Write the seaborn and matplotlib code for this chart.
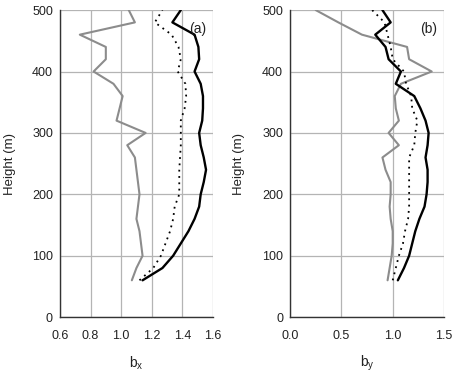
import numpy as np
import pandas as pd
import matplotlib as mpl
import matplotlib.pyplot as plt
import seaborn as sns

sns.set_style("whitegrid")
mpl.rcParams['font.family'] = ['Liberation Sans', 'DejaVu Sans']

# heights (m), 60 .. 500 every 20 m
height = [60, 80, 100, 120, 140, 160, 180, 200, 220, 240, 260, 280,
          300, 320, 340, 360, 380, 400, 420, 440, 460, 480, 500]

# panel (a): bx
bx_gray = [1.07, 1.10, 1.14, 1.13, 1.12, 1.10, 1.11, 1.12, 1.11, 1.10, 1.09, 1.04,
           1.16, 0.97, 0.99, 1.01, 0.95, 0.82, 0.90, 0.90, 0.73, 1.09, 1.05]
bx_dot = [1.12, 1.21, 1.26, 1.29, 1.32, 1.34, 1.35, 1.38, 1.38, 1.38, 1.385, 1.39,
          1.39, 1.39, 1.415, 1.425, 1.42, 1.37, 1.39, 1.375, 1.33, 1.22, 1.27]
bx_black = [1.14, 1.27, 1.34, 1.39, 1.44, 1.48, 1.51, 1.52, 1.54, 1.555, 1.54, 1.52,
            1.51, 1.53, 1.535, 1.535, 1.52, 1.48, 1.51, 1.505, 1.48, 1.335, 1.39]

# panel (b): by
by_gray = [0.95, 0.97, 0.99, 1.00, 1.00, 0.98, 0.97, 0.98, 0.98, 0.93, 0.90, 1.06,
           0.96, 1.06, 1.03, 1.02, 1.08, 1.38, 1.16, 1.14, 0.70, 0.47, 0.25]
by_dot = [1.00, 1.03, 1.06, 1.10, 1.12, 1.15, 1.16, 1.16, 1.16, 1.16, 1.16, 1.21,
          1.22, 1.24, 1.19, 1.18, 1.13, 1.11, 1.00, 0.98, 0.95, 0.92, 0.80]
by_black = [1.05, 1.11, 1.16, 1.19, 1.22, 1.26, 1.31, 1.33, 1.34, 1.34, 1.32, 1.34,
            1.35, 1.32, 1.27, 1.21, 1.03, 1.08, 0.96, 0.93, 0.83, 0.98, 0.90]

fig = plt.figure(figsize=(4.54, 3.74), dpi=100)
ax1 = fig.add_axes([0.132, 0.152, 0.337, 0.821])
ax2 = fig.add_axes([0.639, 0.152, 0.339, 0.821])

panels = [
    (ax1, bx_gray, bx_dot, bx_black, (0.6, 1.6), np.arange(0.6, 1.61, 0.2),
     r'b$_\mathregular{x}$', '(a)', -0.29),
    (ax2, by_gray, by_dot, by_black, (0.0, 1.5), np.arange(0.0, 1.51, 0.5),
     r'b$_\mathregular{y}$', '(b)', -0.295),
]

for ax, g, d, k, xlim, xt, xl, tag, ylx in panels:
    df = pd.DataFrame({'h': height, 'g': g, 'd': d, 'k': k})
    sns.lineplot(data=df, x='g', y='h', orient='y', color='#8c8c8c', lw=1.5, ax=ax)
    sns.lineplot(data=df, x='d', y='h', orient='y', color='black', lw=1.3,
                 ls=(0, (1, 2.5)), ax=ax)
    sns.lineplot(data=df, x='k', y='h', orient='y', color='black', lw=1.7, ax=ax)
    ax.set_xlim(*xlim)
    ax.set_ylim(0, 500)
    ax.set_xticks(xt)
    ax.set_xticklabels(['%.1f' % v for v in xt])
    ax.set_yticks(range(0, 501, 100))
    ax.grid(True, color='#b4b4b4', lw=0.9)
    for s in ['top', 'right']:
        ax.spines[s].set_visible(False)
    for s in ['left', 'bottom']:
        ax.spines[s].set_color('#333333')
        ax.spines[s].set_linewidth(1.0)
    ax.tick_params(axis='both', which='both', direction='out', length=3, width=0.8,
                   color='#333333', labelsize=9, labelcolor='#222222', pad=2)
    ax.tick_params(axis='x', pad=6)
    ax.set_xlabel(xl, fontsize=10, color='#222222', labelpad=9)
    ax.set_ylabel('Height (m)', fontsize=9.5, color='#222222')
    ax.yaxis.set_label_coords(ylx, 0.5)
    ax.text(0.955, 0.96, tag, transform=ax.transAxes, ha='right', va='top',
            fontsize=10, color='#222222')

fig.savefig('out.png', dpi=100, facecolor='white')
